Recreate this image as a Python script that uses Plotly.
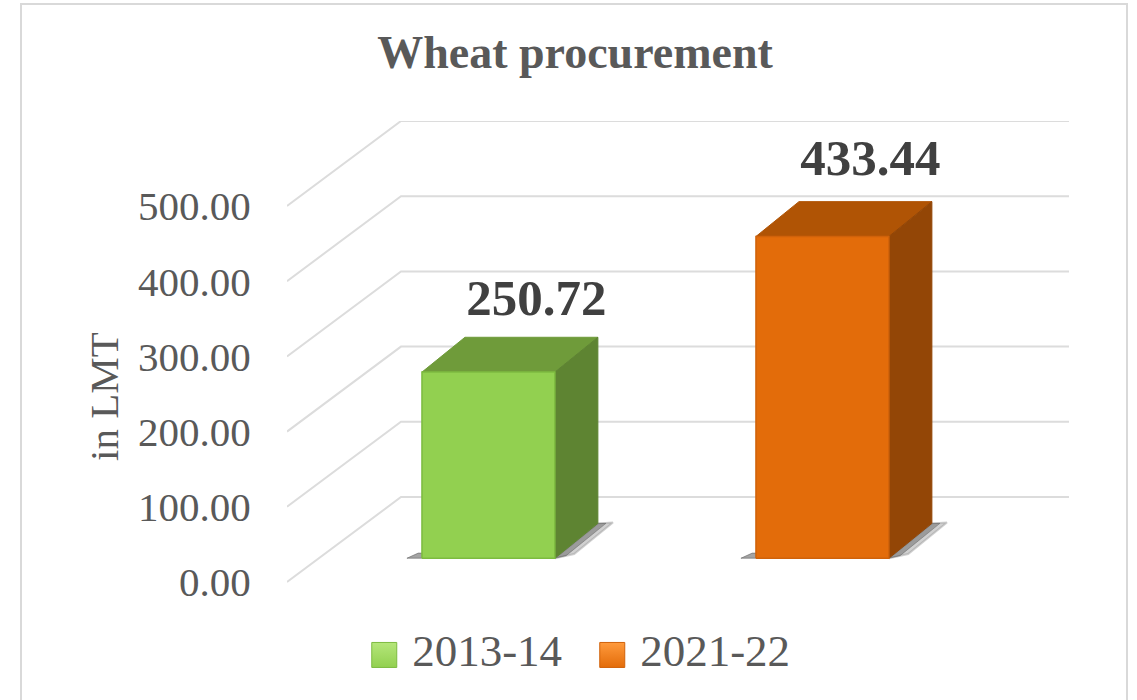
import plotly.graph_objects as go

TITLE = "Wheat procurement"
Y_TITLE = "in LMT"
categories = ["2013-14", "2021-22"]
values = [250.72, 433.44]
y_ticks = [0, 100, 200, 300, 400, 500]
y_tick_labels = ["0.00", "100.00", "200.00", "300.00", "400.00", "500.00"]
front_colors = ["#92D050", "#E36C0A"]
edge_colors = ["#7DBB40", "#D0620A"]
top_colors = ["#6F9B3A", "#B05405"]
side_colors = ["#5E8432", "#934606"]
legend_light = ["#B5E67A", "#FF9A3C"]

# oblique projection: depth z (0 = front, 1 = back wall) shifts points on the axes
DX, DY = 0.3413, 113.0
BAR_DX_K = 0.92
BAR_HALF, Z0, Z1, SCALE = 0.199, 0.28, 0.69, 0.987
X_MIN, X_MAX = -0.5075, 1.8338
Y_MIN, Y_MAX = -130.3, 613.0
PLOT_H = 680 - 121


def P(x, v, z):
    return x + z * DX, v + z * DY


def PB(x, v, z):
    return x + (Z0 + (z - Z0) * BAR_DX_K) * DX, v + z * DY


def poly(points, fill, name, line=None, width=1):
    xs, ys = zip(*[PB(*p) for p in points])
    return go.Scatter(x=list(xs) + [xs[0]], y=list(ys) + [ys[0]], mode="lines", fill="toself",
                      fillcolor=fill, line=dict(color=line or fill, width=width), name=name,
                      showlegend=False, hoverinfo="skip")


fig = go.Figure()
for t in y_ticks:
    xs, ys = zip(P(X_MIN, t, 0), P(X_MIN, t, 1), (X_MAX, t + DY))
    fig.add_trace(go.Scatter(x=xs, y=ys, mode="lines", line=dict(color="#DCDCDC", width=2),
                             showlegend=False, hoverinfo="skip"))

for i, (cat, v) in enumerate(zip(categories, values)):
    h = v * SCALE
    l, r = i - BAR_HALF, i + BAR_HALF
    # soft floor shadow, two overlapping layers
    fig.add_trace(poly([(l - 0.045, 0, Z0), (l + 0.05, 0, Z0), (l + 0.05, 0, Z0 + 0.06),
                        (l - 0.03, 0, Z0 + 0.06)], "rgba(90,90,90,0.55)", "shadow", width=1))
    fig.add_trace(poly([(r, 0, Z0), (r + 0.042, 0, Z0 + 0.05), (r + 0.042, 0, Z1 + 0.01), (r, 0, Z1)],
                       "rgba(150,150,150,0.45)", "shadow", width=2))
    fig.add_trace(poly([(r, 0, Z0), (r + 0.024, 0, Z0 + 0.03), (r + 0.024, 0, Z1), (r, 0, Z1)],
                       "rgba(90,90,90,0.45)", "shadow", width=1))
    fig.add_trace(poly([(l, h, Z0), (r, h, Z0), (r, h, Z1), (l, h, Z1)], top_colors[i], cat))
    fig.add_trace(poly([(r, 0, Z0), (r, h, Z0), (r, h, Z1), (r, 0, Z1)], side_colors[i], cat))
    fig.add_trace(poly([(l, 0, Z0), (r, 0, Z0), (r, h, Z0), (l, h, Z0)], front_colors[i], cat,
                       line=edge_colors[i], width=1.5))
    lx, ly = P(i, h * 1.03 + 38, 0.70)
    fig.add_trace(go.Scatter(x=[lx], y=[ly], mode="text", text=[f"{v:.2f}"], textposition="middle center",
                             textfont=dict(family="Liberation Serif", size=51, color="#404040", weight="bold"),
                             cliponaxis=False, showlegend=False, hoverinfo="skip"))

LEG_Y = -97
for i, cat in enumerate(categories):
    fig.add_trace(go.Scatter(x=[-0.2163 + i * 0.6826], y=[LEG_Y], mode="markers+text", text=[" " + cat],
                             textposition="middle right", name=cat, cliponaxis=False, showlegend=False,
                             textfont=dict(family="Liberation Serif", size=45, color="#595959"),
                             marker=dict(symbol="square", size=25, color=legend_light[i],
                                         gradient=dict(type="vertical", color=front_colors[i]),
                                         line=dict(color=edge_colors[i], width=1))))

fig.update_layout(
    width=1137, height=700, autosize=False,
    paper_bgcolor="white", plot_bgcolor="rgba(0,0,0,0)",
    margin=dict(l=287, r=68, t=121, b=20),
    title=dict(text=f"<b>{TITLE}</b>", x=575 / 1137, xanchor="center", y=1 - 52 / 700, yanchor="middle",
               font=dict(family="Liberation Serif", size=46, color="#595959")),
    showlegend=False,
    xaxis=dict(range=[X_MIN, X_MAX], visible=False, fixedrange=True),
    yaxis=dict(range=[Y_MIN, Y_MAX], tickmode="array", tickvals=y_ticks, ticktext=y_tick_labels, showgrid=False,
               zeroline=False, showline=False, ticks="outside", ticklen=27, tickcolor="rgba(0,0,0,0)",
               tickfont=dict(family="Liberation Serif", size=41, color="#595959"), fixedrange=True),
    annotations=[dict(text=Y_TITLE, xref="paper", yref="y", x=(104 - 287) / 782, y=246, textangle=-90,
                      showarrow=False, xanchor="center", yanchor="middle",
                      font=dict(family="Liberation Serif", size=41, color="#595959"))],
    shapes=[dict(type="rect", xref="paper", yref="paper", x0=(21 - 287) / 782, x1=(1127 - 287) / 782,
                 y0=(680 - 710) / PLOT_H, y1=(680 - 4) / PLOT_H, line=dict(color="#D9D9D9", width=2), layer="below")],
)
fig.write_html("out.html", config={"displayModeBar": False},
               post_script="document.body.style.margin='0';document.documentElement.style.overflow='hidden';")
